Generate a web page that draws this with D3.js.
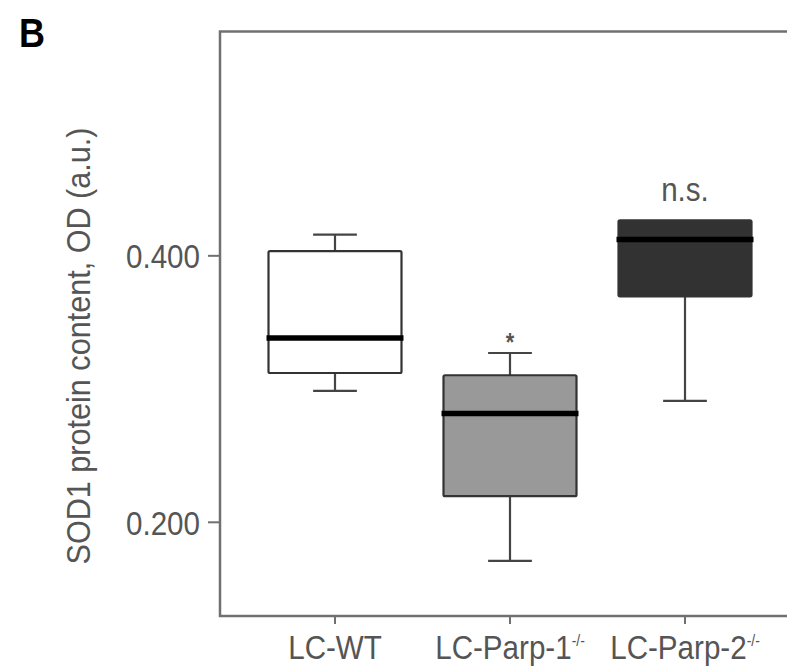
<!DOCTYPE html>
<html><head><meta charset="utf-8">
<script src="https://cdn.jsdelivr.net/npm/d3@7"></script>
<style>html,body{margin:0;padding:0;background:#fff;overflow:hidden;}</style>
</head><body>
<svg id="chart" width="787" height="668"></svg>
<script>
// ---- data ----
const categories   = ["LC-WT", "LC-Parp-1", "LC-Parp-2"];
const superscripts = ["", "-/-", "-/-"];
const whiskerLow   = [0.2982, 0.1707, 0.2907];
const q1           = [0.3117, 0.2192, 0.3692];
const median       = [0.3380, 0.2813, 0.4118];
const q3           = [0.4032, 0.3100, 0.4263];
const whiskerHigh  = [0.4155, 0.3267, 0.4263];
const significance = ["", "*", "n.s."];
const yTickValues  = [0.200, 0.400];
const yDomain      = [0.1293, 0.568];
const panelLetter  = "B";
const yTitle       = "SOD1 protein content, OD (a.u.)";

// ---- styles ----
const boxFills = ["#ffffff", "#999999", "#323232"];
const textColor = "#555";
const fontFamily = "'Liberation Sans', Arial, Helvetica, sans-serif";
const squeeze = 0.87;

const svg = d3.select("#chart");
const plotLeft = 220, plotTop = 31.5, plotBottom = 616, plotRight = 810;

const x = d3.scaleBand().domain(categories).range([247.5, 772.5]).padding(0);
const y = d3.scaleLinear().domain(yDomain).range([plotBottom, plotTop]);

// frame
svg.append("rect")
  .attr("x", plotLeft).attr("y", plotTop)
  .attr("width", plotRight - plotLeft).attr("height", plotBottom - plotTop)
  .attr("fill", "none").attr("stroke", "#707070").attr("stroke-width", 2.5);

// y axis
const yAxis = svg.append("g")
  .attr("transform", `translate(${plotLeft},0)`)
  .call(d3.axisLeft(y).tickValues(yTickValues).tickFormat(d3.format(".3f")).tickSize(12).tickPadding(8));
yAxis.select(".domain").remove();
yAxis.selectAll(".tick line").attr("stroke", "#707070").attr("stroke-width", 2);
yAxis.selectAll(".tick text")
  .attr("font-family", fontFamily).attr("font-size", 34).attr("fill", textColor)
  .attr("x", -20 / squeeze).attr("dy", "0.36em")
  .attr("transform", `scale(${squeeze},1)`);

// x axis
const xAxis = svg.append("g")
  .attr("transform", `translate(0,${plotBottom})`)
  .call(d3.axisBottom(x).tickSize(8).tickPadding(0));
xAxis.select(".domain").remove();
xAxis.selectAll(".tick line").attr("stroke", "#707070").attr("stroke-width", 2);
xAxis.selectAll(".tick text")
  .attr("font-family", fontFamily).attr("font-size", 34).attr("fill", textColor)
  .attr("y", 43).attr("dy", 0)
  .attr("transform", `scale(${squeeze},1)`)
  .each(function(d, i) {
    const t = d3.select(this);
    t.text(d);
    if (superscripts[i]) {
      t.append("tspan").attr("font-size", 16).attr("dy", -13).text(superscripts[i]);
    }
  });

// boxes
const bw = x.bandwidth();
const boxW = bw * 0.76;
const capW = bw * 0.25;
const groups = svg.append("g").selectAll("g").data(categories).join("g")
  .attr("transform", d => `translate(${x(d) + bw / 2},0)`);

groups.each(function(d, i) {
  const g = d3.select(this);
  const wcol = "#444";
  g.append("line").attr("x1", 0).attr("x2", 0).attr("y1", y(q1[i])).attr("y2", y(whiskerLow[i]))
    .attr("stroke", wcol).attr("stroke-width", 2.2);
  g.append("line").attr("x1", -capW / 2).attr("x2", capW / 2).attr("y1", y(whiskerLow[i])).attr("y2", y(whiskerLow[i]))
    .attr("stroke", wcol).attr("stroke-width", 2.2);
  if (whiskerHigh[i] > q3[i]) {
    g.append("line").attr("x1", 0).attr("x2", 0).attr("y1", y(q3[i])).attr("y2", y(whiskerHigh[i]))
      .attr("stroke", wcol).attr("stroke-width", 2.2);
    g.append("line").attr("x1", -capW / 2).attr("x2", capW / 2).attr("y1", y(whiskerHigh[i])).attr("y2", y(whiskerHigh[i]))
      .attr("stroke", wcol).attr("stroke-width", 2.2);
  }
  g.append("rect").attr("x", -boxW / 2).attr("width", boxW)
    .attr("y", y(q3[i])).attr("height", y(q1[i]) - y(q3[i]))
    .attr("rx", 1.5)
    .attr("fill", boxFills[i]).attr("stroke", "#333").attr("stroke-width", 2.2);
  g.append("line").attr("x1", -boxW / 2 - 2).attr("x2", boxW / 2 + 2)
    .attr("y1", y(median[i])).attr("y2", y(median[i]))
    .attr("stroke", "#000").attr("stroke-width", 5.5);
  if (significance[i]) {
    const star = significance[i] === "*";
    g.append("text")
      .attr("font-family", fontFamily).attr("fill", textColor)
      .attr("font-size", star ? 25 : 34)
      .attr("font-weight", star ? "bold" : "normal")
      .attr("text-anchor", "middle")
      .attr("transform", `scale(${squeeze},1)`)
      .attr("y", y(whiskerHigh[i]) - (star ? 2 : 19))
      .text(significance[i]);
  }
});

// y title
svg.append("text")
  .attr("font-family", fontFamily).attr("font-size", 34).attr("fill", textColor)
  .attr("text-anchor", "middle")
  .attr("transform", `translate(90,346) rotate(-90) scale(0.9,1)`)
  .text(yTitle);

// panel letter
svg.append("text")
  .attr("font-family", fontFamily).attr("font-size", 40).attr("font-weight", "bold").attr("fill", "#000")
  .attr("transform", `translate(19,47) scale(0.9,1)`)
  .text(panelLetter);
</script>
</body></html>
